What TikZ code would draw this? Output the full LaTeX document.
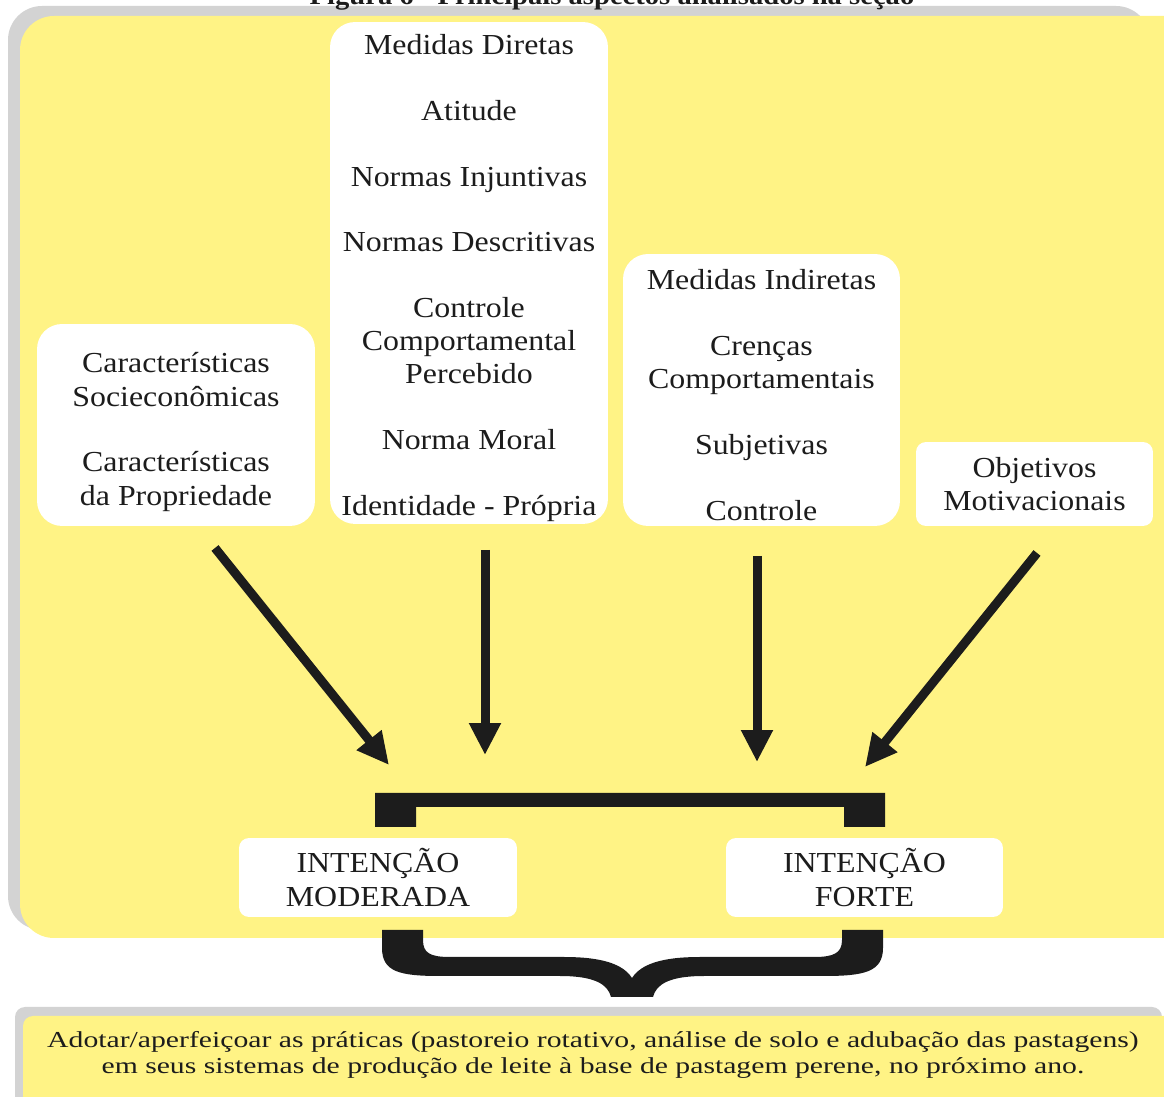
\documentclass[tikz,border=0pt]{standalone}
\usepackage{fontspec}
\setmainfont{Liberation Serif}[FakeStretch=1.1]
\newfontfamily\esticada{Liberation Serif}[FakeStretch=1.3]
\usetikzlibrary{arrows.meta}
\definecolor{amarelo}{RGB}{255,243,133}
\definecolor{cinza}{RGB}{211,211,211}
\definecolor{preto}{RGB}{28,28,28}
\tikzset{
  caixa-g/.style={fill=white,rounded corners=0.5cm,inner sep=0pt},
  caixa-p/.style={caixa-g,rounded corners=0.2cm},
  rotulo/.style={align=center,inner sep=0pt,text=preto,font=\fontsize{16.5}{18.9}\selectfont},
  painel/.style={fill=amarelo,rounded corners=0.68cm},
  sombra/.style={fill=cinza,rounded corners=0.68cm},
  seta/.style={-{Triangle[length=0.64cm,width=0.6cm]},line width=0.18cm,preto},
  barra/.style={fill=preto},
  titulo/.style={font=\fontsize{14.8}{16}\selectfont\bfseries,text=preto,inner sep=0pt},
  rodape/.style={font=\esticada\fontsize{13}{14.8}\selectfont,align=center,text=preto,inner sep=0pt},
}

\begin{document}
\begin{tikzpicture}[x=0.02cm,y=-0.02cm]

  \useasboundingbox (0,0) rectangle (1164,1097);
  \clip (0,0) rectangle (1164,1097);

  % PAINEL PRINCIPAL
  \fill[sombra] (8,6) rectangle (1150,930);
  \fill[painel] (20,16) rectangle (1200,938);

  % PAINEL DE BAIXO
  \fill[sombra,rounded corners=0.2cm] (15,1007) rectangle (1162,1140);
  \fill[painel,rounded corners=0.2cm] (23,1016) rectangle (1200,1150);

  \node[titulo,anchor=base] (tit) at (612,5) {Figura 6 - Principais aspectos analisados na seção};

  % CAIXAS DE CIMA
  \node[caixa-g,minimum width=5.56cm,minimum height=4.04cm] (socio) at (176,425) {};
  \node[rotulo,yshift=-0.14cm] (socio-t) at (socio.center)
    {Características\\Socieconômicas\\[0.65cm]Características\\da Propriedade};
  \node[caixa-g,minimum width=5.56cm,minimum height=10.04cm] (diretas) at (469,273) {};
  \node[rotulo,yshift=-0.1cm] (diretas-t) at (diretas.center)
    {Medidas Diretas\\[0.65cm]Atitude\\[0.65cm]Normas Injuntivas\\[0.65cm]Normas Descritivas\\[0.65cm]Controle\\Comportamental\\Percebido\\[0.65cm]Norma Moral\\[0.65cm]Identidade - Própria};
  \node[caixa-g,minimum width=5.54cm,minimum height=5.44cm] (indiretas) at (761.5,390) {};
  \node[rotulo,yshift=-0.1cm] (indiretas-t) at (indiretas.center)
    {Medidas Indiretas\\[0.65cm]Crenças\\Comportamentais\\[0.65cm]Subjetivas\\[0.65cm]Controle};
  \node[caixa-p,minimum width=4.74cm,minimum height=1.68cm] (objetivos) at (1034.5,484) {};
  \node[rotulo] (objetivos-t) at (objetivos.center) {Objetivos\\Motivacionais};

  % SETAS
  \coordinate (s1) at (215,548);  \coordinate (t1) at (389,765);
  \coordinate (s2) at (485,550);  \coordinate (t2) at (485,755);
  \coordinate (s3) at (757,556);  \coordinate (t3) at (757,762);
  \coordinate (s4) at (1037,553); \coordinate (t4) at (865,767);
  \draw[seta] (s1) -- (t1);
  \draw[seta] (s2) -- (t2);
  \draw[seta] (s3) -- (t3);
  \draw[seta] (s4) -- (t4);

  % COLCHETE
  \fill[barra] (375,793) -- (885,793) -- (885,827) -- (844,827) -- (844,807)
    -- (416,807) -- (416,827) -- (375,827) -- cycle;

  % INTENCOES
  \node[caixa-p,minimum width=5.56cm,minimum height=1.58cm] (moderada) at (378,877.5) {};
  \node[rotulo] (moderada-t) at (moderada.center) {INTENÇÃO\\MODERADA};
  \node[caixa-p,minimum width=5.54cm,minimum height=1.58cm] (forte) at (864.5,877.5) {};
  \node[rotulo] (forte-t) at (forte.center) {INTENÇÃO\\FORTE};

  % CHAVE
  \fill[barra] (382,930) -- (382,948) .. controls (382,972) and (400,976) .. (440,976)
    -- (560,976) .. controls (596,976) and (608,985) .. (611,997) -- (653,997)
    .. controls (656,985) and (668,976) .. (704,976) -- (824,976)
    .. controls (864,976) and (883,972) .. (883,948) -- (883,930) -- (842,930) -- (842,940)
    .. controls (842,953) and (834,957) .. (814,957) -- (700,957)
    .. controls (662,957) and (641,964) .. (632,978)
    .. controls (623,964) and (602,957) .. (564,957) -- (450,957)
    .. controls (430,957) and (423,953) .. (423,940) -- (423,930) -- cycle;

  \node[rodape] (acao) at (593,1055)
    {Adotar/aperfeiçoar as práticas (pastoreio rotativo, análise de solo e adubação das pastagens)\\em seus sistemas de produção de leite à base de pastagem perene, no próximo ano.};

\end{tikzpicture}
\end{document}
